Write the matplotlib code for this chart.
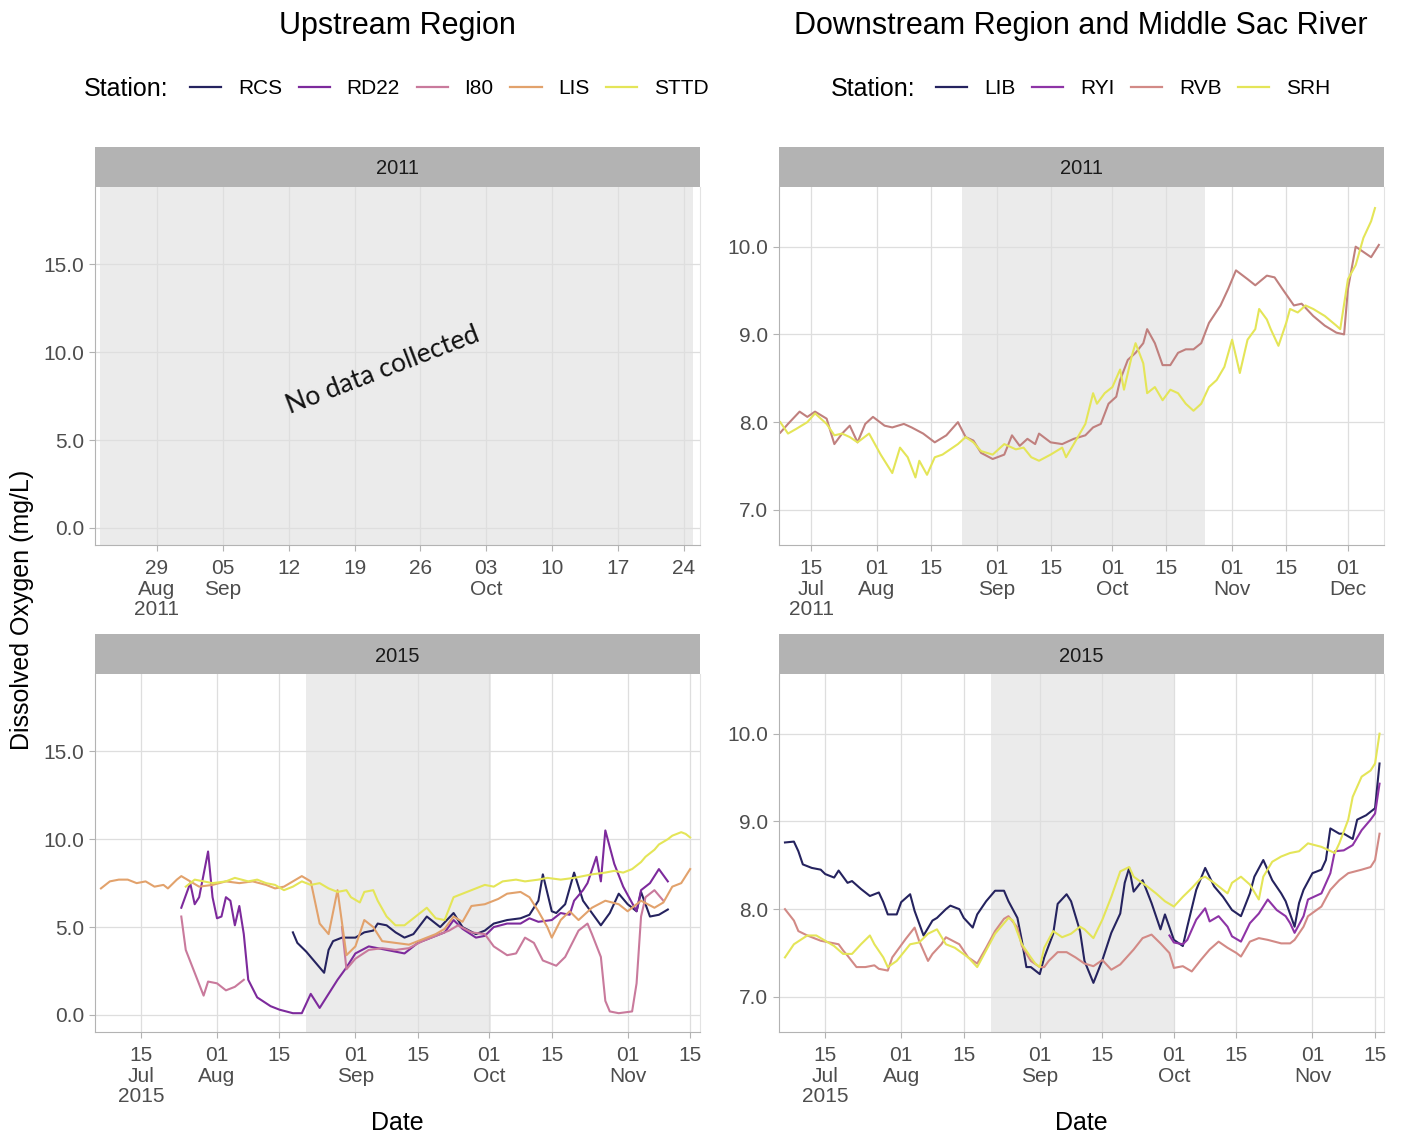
import matplotlib.pyplot as plt
import numpy as np
import pandas as pd
from matplotlib.lines import Line2D

plt.rcParams['font.family'] = ['Liberation Sans', 'DejaVu Sans']

# ---------------- data (dissolved oxygen, mg/L) ----------------
# Upstream region, 2015
rcs_2015_days = ['08-18', '08-19', '08-21', '08-22', '08-23', '08-25', '08-26', '08-27', '08-29', '09-01',
                 '09-03', '09-05', '09-06', '09-08', '09-10', '09-12', '09-14', '09-17', '09-20', '09-23',
                 '09-25', '09-28', '09-30', '10-02', '10-05', '10-08', '10-10', '10-12', '10-13', '10-15',
                 '10-16', '10-18', '10-20', '10-22', '10-24', '10-26', '10-28', '10-30', '11-01', '11-03',
                 '11-04', '11-06', '11-08', '11-10']
rcs_2015_do = [4.7, 4.1, 3.6, 3.3, 3.0, 2.4, 3.7, 4.2, 4.4, 4.4,
               4.7, 4.8, 5.2, 5.1, 4.7, 4.4, 4.6, 5.6, 5.0, 5.8,
               5.0, 4.6, 4.8, 5.2, 5.4, 5.5, 5.7, 6.5, 8.0, 5.9,
               5.8, 6.3, 8.1, 6.5, 5.8, 5.1, 5.8, 6.9, 6.3, 5.9,
               7.0, 5.6, 5.7, 6.0]

rd22_2015_days = ['07-24', '07-26', '07-27', '07-28', '07-30', '07-31', '08-01', '08-02', '08-03', '08-04',
                  '08-05', '08-06', '08-07', '08-08', '08-10', '08-13', '08-15', '08-18', '08-20', '08-22',
                  '08-24', '08-26', '08-28', '08-30', '09-01', '09-04', '09-06', '09-10', '09-12', '09-15',
                  '09-18', '09-21', '09-23', '09-25', '09-28', '09-30', '10-02', '10-05', '10-08', '10-10',
                  '10-12', '10-15', '10-17', '10-19', '10-20', '10-22', '10-23', '10-25', '10-26', '10-27',
                  '10-29', '10-31', '11-03', '11-04', '11-06', '11-08', '11-10']
rd22_2015_do = [6.1, 7.5, 6.3, 6.7, 9.3, 6.7, 5.5, 5.6, 6.7, 6.5,
                5.1, 6.2, 4.6, 2.0, 1.0, 0.5, 0.3, 0.1, 0.1, 1.2,
                0.4, 1.2, 2.0, 2.7, 3.5, 3.9, 3.8, 3.6, 3.5, 4.1,
                4.4, 4.7, 5.4, 4.9, 4.4, 4.5, 5.0, 5.2, 5.2, 5.5,
                5.3, 5.4, 5.8, 5.7, 6.5, 7.1, 7.5, 9.0, 7.6, 10.5,
                8.6, 7.3, 5.9, 7.1, 7.5, 8.3, 7.6]

i80_2015_days = ['07-24', '07-25', '07-27', '07-29', '07-30', '08-01', '08-03', '08-05', '08-07', '08-18',
                 '08-29', '08-30', '09-01', '09-04', '09-07', '09-10', '09-13', '09-16', '09-19', '09-22',
                 '09-24', '09-27', '09-30', '10-02', '10-05', '10-07', '10-09', '10-11', '10-13', '10-16',
                 '10-18', '10-21', '10-23', '10-24', '10-26', '10-27', '10-28', '10-30', '11-02', '11-03',
                 '11-04', '11-05', '11-07', '11-09']
i80_2015_do = [5.6, 3.7, 2.4, 1.1, 1.9, 1.8, 1.4, 1.6, 2.0, np.nan,
               5.0, 2.6, 3.2, 3.7, 3.8, 3.7, 3.8, 4.2, 4.5, 4.8,
               5.1, 4.7, 4.6, 3.9, 3.4, 3.5, 4.4, 4.1, 3.1, 2.8,
               3.3, 4.8, 5.2, 4.6, 3.3, 0.8, 0.2, 0.1, 0.2, 1.8,
               5.6, 6.7, 7.1, 6.5]

lis_2015_days = ['07-06', '07-08', '07-10', '07-12', '07-14', '07-16', '07-18', '07-20', '07-21', '07-23',
                 '07-24', '07-26', '07-28', '07-31', '08-03', '08-06', '08-09', '08-12', '08-14', '08-16',
                 '08-18', '08-20', '08-22', '08-24', '08-26', '08-28', '08-30', '09-01', '09-03', '09-05',
                 '09-07', '09-10', '09-13', '09-16', '09-19', '09-21', '09-23', '09-25', '09-27', '09-30',
                 '10-03', '10-05', '10-08', '10-10', '10-12', '10-14', '10-15', '10-17', '10-19', '10-21',
                 '10-24', '10-27', '10-30', '11-01', '11-04', '11-07', '11-09', '11-11', '11-13', '11-15']
lis_2015_do = [7.2, 7.6, 7.7, 7.7, 7.5, 7.6, 7.3, 7.4, 7.2, 7.7,
               7.9, 7.6, 7.3, 7.4, 7.6, 7.5, 7.6, 7.4, 7.2, 7.3,
               7.6, 7.9, 7.6, 5.2, 4.6, 7.1, 3.4, 3.9, 5.4, 5.0,
               4.2, 4.1, 4.0, 4.3, 4.6, 4.9, 5.6, 5.3, 6.2, 6.3,
               6.6, 6.9, 7.0, 6.7, 5.9, 5.0, 4.4, 5.4, 5.9, 5.4,
               6.1, 6.5, 6.3, 5.9, 6.5, 6.1, 6.4, 7.3, 7.5, 8.3]

sttd_2015_days = ['07-25', '07-27', '07-29', '07-31', '08-03', '08-05', '08-08', '08-10', '08-12', '08-14',
                  '08-16', '08-18', '08-20', '08-22', '08-24', '08-26', '08-28', '08-30', '08-31', '09-02',
                  '09-03', '09-05', '09-06', '09-08', '09-10', '09-12', '09-14', '09-17', '09-19', '09-21',
                  '09-23', '09-25', '09-27', '09-30', '10-02', '10-04', '10-07', '10-09', '10-12', '10-14',
                  '10-17', '10-20', '10-22', '10-24', '10-27', '10-29', '10-31', '11-02', '11-04', '11-05',
                  '11-07', '11-08', '11-10', '11-11', '11-13', '11-14', '11-15']
sttd_2015_do = [7.3, 7.7, 7.6, 7.5, 7.6, 7.8, 7.6, 7.7, 7.5, 7.4,
                7.1, 7.3, 7.6, 7.4, 7.5, 7.2, 7.0, 7.1, 6.7, 6.4,
                7.0, 7.1, 6.5, 5.6, 5.1, 5.1, 5.5, 6.1, 5.5, 5.4,
                6.7, 6.9, 7.1, 7.4, 7.3, 7.6, 7.7, 7.6, 7.7, 7.8,
                7.7, 7.8, 7.9, 8.0, 8.1, 8.2, 8.1, 8.3, 8.7, 9.0,
                9.4, 9.7, 10.0, 10.2, 10.4, 10.3, 10.1]

# Downstream region, 2011
rvb_2011_days = ['07-07', '07-09', '07-12', '07-14', '07-16', '07-19', '07-21', '07-23', '07-25', '07-27',
                 '07-29', '07-31', '08-03', '08-05', '08-08', '08-10', '08-13', '08-16', '08-19', '08-22',
                 '08-24', '08-26', '08-28', '08-31', '09-03', '09-05', '09-07', '09-09', '09-11', '09-12',
                 '09-15', '09-18', '09-21', '09-24', '09-26', '09-28', '09-30', '10-02', '10-03', '10-05',
                 '10-07', '10-09', '10-10', '10-12', '10-14', '10-16', '10-18', '10-20', '10-22', '10-24',
                 '10-26', '10-29', '10-31', '11-02', '11-05', '11-07', '11-10', '11-12', '11-14', '11-17',
                 '11-19', '11-22', '11-25', '11-28', '11-30', '12-01', '12-03', '12-05', '12-07', '12-09']
rvb_2011_do = [7.88, 7.98, 8.12, 8.06, 8.12, 8.04, 7.75, 7.87, 7.96, 7.77,
               7.98, 8.06, 7.96, 7.94, 7.98, 7.94, 7.87, 7.77, 7.85, 8.00,
               7.83, 7.79, 7.65, 7.58, 7.63, 7.85, 7.73, 7.81, 7.75, 7.87,
               7.77, 7.75, 7.81, 7.85, 7.94, 7.98, 8.21, 8.29, 8.48, 8.71,
               8.79, 8.90, 9.06, 8.90, 8.65, 8.65, 8.79, 8.83, 8.83, 8.90,
               9.13, 9.33, 9.52, 9.73, 9.63, 9.56, 9.67, 9.65, 9.52, 9.33,
               9.35, 9.21, 9.10, 9.02, 9.00, 9.52, 10.00, 9.94, 9.88, 10.02]

srh_2011_days = ['07-07', '07-09', '07-11', '07-14', '07-16', '07-19', '07-21', '07-23', '07-25', '07-27',
                 '07-30', '08-02', '08-05', '08-07', '08-09', '08-11', '08-12', '08-14', '08-16', '08-18',
                 '08-20', '08-22', '08-24', '08-26', '08-28', '08-31', '09-03', '09-06', '09-08', '09-10',
                 '09-12', '09-15', '09-18', '09-19', '09-21', '09-24', '09-26', '09-27', '09-29', '10-01',
                 '10-03', '10-04', '10-06', '10-07', '10-09', '10-10', '10-12', '10-14', '10-16', '10-18',
                 '10-20', '10-22', '10-24', '10-26', '10-28', '10-30', '11-01', '11-02', '11-03', '11-05',
                 '11-07', '11-08', '11-10', '11-11', '11-13', '11-15', '11-16', '11-18', '11-20', '11-22',
                 '11-25', '11-28', '11-29', '12-01', '12-03', '12-05', '12-07', '12-08']
srh_2011_do = [8.00, 7.87, 7.92, 8.00, 8.10, 7.98, 7.85, 7.87, 7.83, 7.77,
               7.87, 7.63, 7.42, 7.71, 7.60, 7.37, 7.56, 7.40, 7.60, 7.63,
               7.69, 7.75, 7.83, 7.77, 7.67, 7.63, 7.75, 7.69, 7.71, 7.60,
               7.56, 7.63, 7.71, 7.60, 7.75, 7.98, 8.33, 8.21, 8.33, 8.40,
               8.60, 8.37, 8.75, 8.90, 8.67, 8.33, 8.40, 8.25, 8.37, 8.33,
               8.21, 8.13, 8.21, 8.40, 8.48, 8.63, 8.94, 8.75, 8.56, 8.94,
               9.06, 9.29, 9.17, 9.06, 8.87, 9.13, 9.29, 9.25, 9.33, 9.29,
               9.21, 9.10, 9.06, 9.63, 9.79, 10.10, 10.29, 10.44]

# Downstream region, 2015
lib_2015_days = ['07-06', '07-08', '07-09', '07-10', '07-12', '07-14', '07-15', '07-17', '07-18', '07-20',
                 '07-21', '07-23', '07-25', '07-27', '07-28', '07-29', '07-31', '08-01', '08-03', '08-04',
                 '08-06', '08-08', '08-09', '08-11', '08-12', '08-14', '08-15', '08-17', '08-18', '08-20',
                 '08-22', '08-24', '08-25', '08-27', '08-28', '08-29', '08-30', '09-01', '09-02', '09-04',
                 '09-05', '09-07', '09-08', '09-10', '09-11', '09-13', '09-15', '09-17', '09-19', '09-20',
                 '09-21', '09-22', '09-24', '09-26', '09-28', '09-29', '10-01', '10-03', '10-04', '10-06',
                 '10-08', '10-10', '10-12', '10-14', '10-16', '10-18', '10-19', '10-21', '10-23', '10-25',
                 '10-26', '10-28', '10-29', '10-30', '11-01', '11-03', '11-04', '11-05', '11-07', '11-08',
                 '11-10', '11-11', '11-13', '11-15', '11-16']
lib_2015_do = [8.76, 8.77, 8.66, 8.51, 8.47, 8.45, 8.40, 8.36, 8.44, 8.30,
               8.32, 8.23, 8.15, 8.19, 8.08, 7.94, 7.94, 8.08, 8.17, 7.98,
               7.70, 7.87, 7.90, 8.00, 8.04, 8.00, 7.90, 7.79, 7.94, 8.09,
               8.21, 8.21, 8.09, 7.90, 7.64, 7.34, 7.34, 7.26, 7.45, 7.72,
               8.06, 8.17, 8.09, 7.75, 7.41, 7.16, 7.42, 7.73, 7.95, 8.30,
               8.47, 8.20, 8.33, 8.07, 7.77, 7.94, 7.65, 7.58, 7.80, 8.22,
               8.47, 8.26, 8.14, 7.99, 7.92, 8.18, 8.37, 8.56, 8.33, 8.18,
               8.09, 7.80, 8.07, 8.22, 8.41, 8.45, 8.56, 8.92, 8.86, 8.86,
               8.80, 9.02, 9.07, 9.15, 9.66]

ryi_2015_days = ['09-30', '10-01', '10-03', '10-04', '10-06', '10-08', '10-09', '10-11', '10-13', '10-14',
                 '10-16', '10-18', '10-20', '10-22', '10-24', '10-26', '10-27', '10-28', '10-30', '10-31',
                 '11-03', '11-05', '11-06', '11-08', '11-10', '11-12', '11-14', '11-15', '11-16']
ryi_2015_do = [7.70, 7.62, 7.60, 7.65, 7.88, 8.01, 7.86, 7.92, 7.80, 7.69,
               7.63, 7.84, 7.95, 8.11, 7.99, 7.92, 7.84, 7.73, 7.92, 8.11,
               8.18, 8.41, 8.66, 8.67, 8.73, 8.90, 9.02, 9.09, 9.43]

rvb_2015_days = ['07-06', '07-08', '07-09', '07-11', '07-14', '07-16', '07-18', '07-19', '07-20', '07-22',
                 '07-24', '07-26', '07-27', '07-29', '07-30', '08-02', '08-04', '08-05', '08-07', '08-08',
                 '08-10', '08-11', '08-14', '08-16', '08-18', '08-20', '08-22', '08-24', '08-25', '08-27',
                 '08-28', '08-30', '09-01', '09-02', '09-03', '09-05', '09-07', '09-09', '09-11', '09-13',
                 '09-15', '09-17', '09-19', '09-22', '09-24', '09-26', '09-28', '09-30', '10-01', '10-03',
                 '10-05', '10-07', '10-09', '10-11', '10-13', '10-15', '10-16', '10-18', '10-20', '10-22',
                 '10-25', '10-27', '10-28', '10-30', '10-31', '11-03', '11-05', '11-07', '11-09', '11-12',
                 '11-14', '11-15', '11-16']
rvb_2015_do = [8.00, 7.87, 7.75, 7.70, 7.64, 7.62, 7.60, 7.53, 7.47, 7.34,
               7.34, 7.36, 7.32, 7.30, 7.45, 7.66, 7.79, 7.64, 7.41, 7.49,
               7.60, 7.68, 7.60, 7.45, 7.38, 7.56, 7.75, 7.89, 7.92, 7.79,
               7.58, 7.41, 7.34, 7.34, 7.41, 7.51, 7.51, 7.45, 7.38, 7.35,
               7.42, 7.31, 7.37, 7.54, 7.67, 7.71, 7.61, 7.50, 7.33, 7.35,
               7.29, 7.42, 7.54, 7.63, 7.56, 7.50, 7.46, 7.63, 7.67, 7.65,
               7.61, 7.61, 7.65, 7.80, 7.92, 8.03, 8.22, 8.33, 8.41, 8.45,
               8.48, 8.56, 8.86]

srh_2015_days = ['07-06', '07-08', '07-11', '07-13', '07-15', '07-17', '07-19', '07-21', '07-23', '07-25',
                 '07-26', '07-28', '07-29', '07-31', '08-03', '08-05', '08-07', '08-09', '08-11', '08-13',
                 '08-16', '08-18', '08-20', '08-22', '08-25', '08-26', '08-28', '08-30', '08-31', '09-01',
                 '09-02', '09-04', '09-06', '09-08', '09-10', '09-11', '09-13', '09-15', '09-17', '09-19',
                 '09-21', '09-22', '09-25', '09-27', '09-29', '10-01', '10-03', '10-05', '10-07', '10-08',
                 '10-10', '10-13', '10-14', '10-16', '10-18', '10-20', '10-21', '10-23', '10-25', '10-27',
                 '10-29', '10-31', '11-03', '11-06', '11-07', '11-09', '11-10', '11-12', '11-14', '11-15',
                 '11-16']
srh_2015_do = [7.45, 7.60, 7.70, 7.70, 7.64, 7.58, 7.49, 7.49, 7.60, 7.70,
               7.60, 7.45, 7.34, 7.41, 7.60, 7.62, 7.72, 7.77, 7.60, 7.56,
               7.45, 7.34, 7.53, 7.72, 7.90, 7.87, 7.60, 7.45, 7.38, 7.34,
               7.56, 7.75, 7.68, 7.72, 7.80, 7.77, 7.67, 7.88, 8.14, 8.43,
               8.48, 8.37, 8.26, 8.18, 8.09, 8.03, 8.14, 8.24, 8.35, 8.37,
               8.30, 8.18, 8.30, 8.37, 8.28, 8.11, 8.37, 8.54, 8.60, 8.64,
               8.66, 8.75, 8.71, 8.64, 8.75, 9.02, 9.28, 9.51, 9.58, 9.66,
               10.00]

# shaded windows and axis ticks
shade_2011 = ['2011-08-23', '2011-10-25']
shade_2015 = ['2015-08-21', '2015-10-01 08:00']

ticks_up_2011 = ['2011-08-29', '2011-09-05', '2011-09-12', '2011-09-19', '2011-09-26',
                 '2011-10-03', '2011-10-10', '2011-10-17', '2011-10-24']
labels_up_2011 = ['29\nAug\n2011', '05\nSep', '12', '19', '26', '03\nOct', '10', '17', '24']
ticks_down_2011 = ['2011-07-15', '2011-08-01', '2011-08-15', '2011-09-01', '2011-09-15',
                   '2011-10-01', '2011-10-15', '2011-11-01', '2011-11-15', '2011-12-01']
labels_down_2011 = ['15\nJul\n2011', '01\nAug', '15', '01\nSep', '15', '01\nOct', '15',
                    '01\nNov', '15', '01\nDec']
ticks_2015 = ['2015-07-15', '2015-08-01', '2015-08-15', '2015-09-01', '2015-09-15',
              '2015-10-01', '2015-10-15', '2015-11-01', '2015-11-15']
labels_2015 = ['15\nJul\n2015', '01\nAug', '15', '01\nSep', '15', '01\nOct', '15', '01\nNov', '15']

up_yticks = [0, 5, 10, 15]
down_yticks = [7, 8, 9, 10]

up_stations = ['RCS', 'RD22', 'I80', 'LIS', 'STTD']
down_stations = ['LIB', 'RYI', 'RVB', 'SRH']
colors = {'RCS': '#25235f', 'RD22': '#7d2a9c', 'I80': '#c97a9c', 'LIS': '#e2a26c', 'STTD': '#e4e558',
          'LIB': '#25235f', 'RYI': '#8e34a6', 'RVB': '#d28a86', 'SRH': '#e4e558'}

# ---------------- figure ----------------
W, H = 1401, 1139
fig = plt.figure(figsize=(W / 100, H / 100), dpi=100)


def px_axes(x0, y0, x1, y1):
    return fig.add_axes([x0 / W, 1 - y1 / H, (x1 - x0) / W, (y1 - y0) / H])


def dates(year, days):
    return pd.to_datetime([f'{year}-{d}' for d in days])


def make_panel(x0, y0, strip, xlim, ylim, yticks, xticks, xlabels, shade):
    x1, y1 = x0 + 605, y0 + 358
    ax = px_axes(x0, y0, x1, y1)
    sax = px_axes(x0, y0 - 40, x1, y0)
    sax.set_facecolor('#b3b3b3')
    sax.set_xticks([])
    sax.set_yticks([])
    for s in sax.spines.values():
        s.set_visible(False)
    sax.text(0.5, 0.45, strip, ha='center', va='center', fontsize=14.5, color='#1a1a1a')

    ax.axvspan(pd.Timestamp(shade[0]), pd.Timestamp(shade[1]), color='#ebebeb', lw=0, zorder=0.2)
    ax.set_axisbelow(True)
    ax.grid(True, color='#dedede', lw=0.9)
    ax.set_xlim(pd.Timestamp(xlim[0]), pd.Timestamp(xlim[1]))
    ax.set_ylim(*ylim)
    ax.set_yticks(yticks)
    ax.set_yticklabels([f'{v:.1f}' for v in yticks])
    ax.set_xticks(pd.to_datetime(xticks))
    ax.set_xticklabels(xlabels)
    for lbl in ax.get_xticklabels():
        lbl.set_linespacing(1.12)
    ax.tick_params(labelsize=15, labelcolor='#4d4d4d', color='#b3b3b3', length=4, width=0.8, pad=4)
    ax.tick_params(axis='x', pad=6)
    ax.spines['top'].set_visible(False)
    ax.spines['right'].set_color('#e3e3e3')
    ax.spines['left'].set_color('#b3b3b3')
    ax.spines['bottom'].set_color('#b3b3b3')
    return ax


up_ylim = (-0.97, 19.4)
down_ylim = (6.6, 10.68)

ax_tl = make_panel(95, 187, '2011', ('2011-08-22 10:00', '2011-10-25 17:00'), up_ylim, up_yticks,
                   ticks_up_2011, labels_up_2011, shade_2011)
ax_tr = make_panel(779, 187, '2011', ('2011-07-06 16:00', '2011-12-10 08:00'), down_ylim, down_yticks,
                   ticks_down_2011, labels_down_2011, shade_2011)
ax_bl = make_panel(95, 674, '2015', ('2015-07-04 16:00', '2015-11-17 05:00'), up_ylim, up_yticks,
                   ticks_2015, labels_2015, shade_2015)
ax_br = make_panel(779, 674, '2015', ('2015-07-04 16:00', '2015-11-17 00:00'), down_ylim, down_yticks,
                   ticks_2015, labels_2015, shade_2015)

ax_tl.text(0.476, 0.489, 'No data collected', transform=ax_tl.transAxes, rotation=21,
           ha='center', va='center', fontsize=19, family=['Lato', 'DejaVu Sans'], color='#111111')

lw = 1.5
ax_bl.plot(dates(2015, rcs_2015_days), rcs_2015_do, color=colors['RCS'], lw=lw)
ax_bl.plot(dates(2015, rd22_2015_days), rd22_2015_do, color=colors['RD22'], lw=lw)
ax_bl.plot(dates(2015, i80_2015_days), i80_2015_do, color=colors['I80'], lw=lw)
ax_bl.plot(dates(2015, lis_2015_days), lis_2015_do, color=colors['LIS'], lw=lw)
ax_bl.plot(dates(2015, sttd_2015_days), sttd_2015_do, color=colors['STTD'], lw=lw)

ax_tr.plot(dates(2011, rvb_2011_days), rvb_2011_do, color='#c0807e', lw=lw)
ax_tr.plot(dates(2011, srh_2011_days), srh_2011_do, color=colors['SRH'], lw=lw)

ax_br.plot(dates(2015, lib_2015_days), lib_2015_do, color=colors['LIB'], lw=lw)
ax_br.plot(dates(2015, ryi_2015_days), ryi_2015_do, color=colors['RYI'], lw=lw)
ax_br.plot(dates(2015, rvb_2015_days), rvb_2015_do, color=colors['RVB'], lw=lw)
ax_br.plot(dates(2015, srh_2015_days), srh_2015_do, color=colors['SRH'], lw=lw)

# titles, legends and axis labels
fig.text(397 / W, 1 - 26 / H, 'Upstream Region', ha='center', va='center', fontsize=22)
fig.text(1081 / W, 1 - 26 / H, 'Downstream Region and Middle Sac River', ha='center', va='center', fontsize=22)

legend_y = 1 - 89 / H
fig.text(84 / W, legend_y, 'Station:', ha='left', va='center', fontsize=18)
fig.text(831 / W, legend_y, 'Station:', ha='left', va='center', fontsize=18)

up_handles = [Line2D([], [], color=colors[s], lw=1.6) for s in up_stations]
down_handles = [Line2D([], [], color=colors[s], lw=1.6) for s in down_stations]
fig.legend(up_handles, up_stations, loc='center left', bbox_to_anchor=(190 / W, legend_y), ncol=5,
           frameon=False, fontsize=15, handlelength=1.5, handletextpad=0.8, columnspacing=0.8,
           borderpad=0, borderaxespad=0)
fig.legend(down_handles, down_stations, loc='center left', bbox_to_anchor=(936 / W, legend_y), ncol=4,
           frameon=False, fontsize=15, handlelength=1.5, handletextpad=0.8, columnspacing=0.8,
           borderpad=0, borderaxespad=0)

fig.text(22 / W, 1 - 610 / H, 'Dissolved Oxygen (mg/L)', rotation=90, ha='center', va='center', fontsize=18)
fig.text(397 / W, 1 - 1123 / H, 'Date', ha='center', va='center', fontsize=18)
fig.text(1081 / W, 1 - 1123 / H, 'Date', ha='center', va='center', fontsize=18)

fig.savefig('out.png', dpi=100)
